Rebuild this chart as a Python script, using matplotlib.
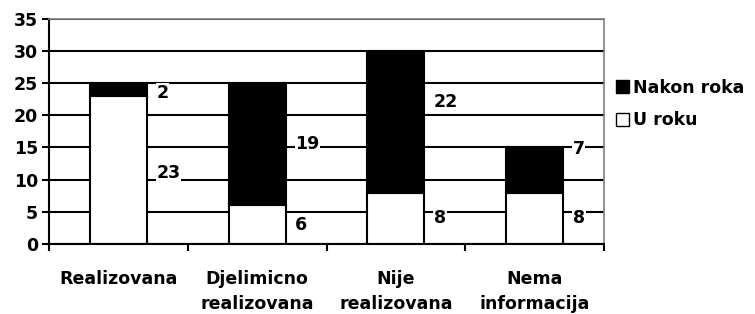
import matplotlib.pyplot as plt
import numpy as np

plt.rcParams['font.family'] = ['DejaVu Sans']
plt.rcParams['font.weight'] = 'bold'

categories = ['Realizovana', 'Djelimicno\nrealizovana', 'Nije\nrealizovana', 'Nema\ninformacija']
u_roku = [23, 6, 8, 8]
nakon_roka = [2, 19, 22, 7]

# label nudges (value units), Excel labels were dragged a bit
nudge_u = [-0.5, 0, 0, 0]
nudge_n = [-0.5, 0, 3, 3.3]

fs = 12.5

fig = plt.figure(figsize=(7.55, 3.14), dpi=100)
ax = fig.add_axes([0.065, 0.223, 0.735, 0.717])

x = np.arange(len(categories))
w = 0.41
ax.bar(x, u_roku, w, color='white', edgecolor='black', linewidth=1.5, label='U roku', zorder=2)
ax.bar(x, nakon_roka, w, bottom=u_roku, color='black', edgecolor='black', linewidth=1.5,
       label='Nakon roka', zorder=2)

for i in range(len(x)):
    xl = x[i] + w / 2 + 0.07
    ax.text(xl, u_roku[i] / 2 + nudge_u[i], str(u_roku[i]), fontsize=fs, fontweight='bold',
            va='center', ha='left', zorder=3,
            bbox=dict(facecolor='white', edgecolor='none', pad=0.5))
    ax.text(xl, u_roku[i] + nakon_roka[i] / 2 + nudge_n[i], str(nakon_roka[i]), fontsize=fs,
            fontweight='bold', va='center', ha='left', zorder=3,
            bbox=dict(facecolor='white', edgecolor='none', pad=0.5))

ax.set_xlim(-0.5, len(categories) - 0.5)
ax.set_ylim(0, 35)
ax.set_yticks(range(0, 36, 5))
ax.tick_params(axis='y', labelsize=fs, length=5, width=1.5, pad=3)
ax.set_xticks(np.arange(-0.5, len(categories), 1))
ax.set_xticklabels([])
ax.tick_params(axis='x', length=5, width=1.5, direction='out')
for i, c in enumerate(categories):
    ax.text(x[i], -0.115, c, transform=ax.get_xaxis_transform(), ha='center', va='top',
            fontsize=fs, fontweight='bold', linespacing=1.5)

ax.yaxis.grid(True, color='black', linewidth=1.5, zorder=0)
ax.set_axisbelow(True)
ax.spines['left'].set_linewidth(1.5)
ax.spines['bottom'].set_linewidth(1.5)
ax.spines['top'].set_color('#808080')
ax.spines['right'].set_color('#808080')
ax.spines['top'].set_linewidth(1.2)
ax.spines['right'].set_linewidth(1.2)

h, l = ax.get_legend_handles_labels()
leg = fig.legend(h[::-1], l[::-1], loc='center left', bbox_to_anchor=(0.816, 0.669),
                 frameon=False, prop={'size': fs, 'weight': 'bold'},
                 handlelength=0.75, handleheight=0.75, handletextpad=0.25, labelspacing=0.85,
                 borderaxespad=0, borderpad=0)
for p in leg.get_patches():
    p.set_linewidth(1.0)

fig.savefig('out.png', dpi=100)
